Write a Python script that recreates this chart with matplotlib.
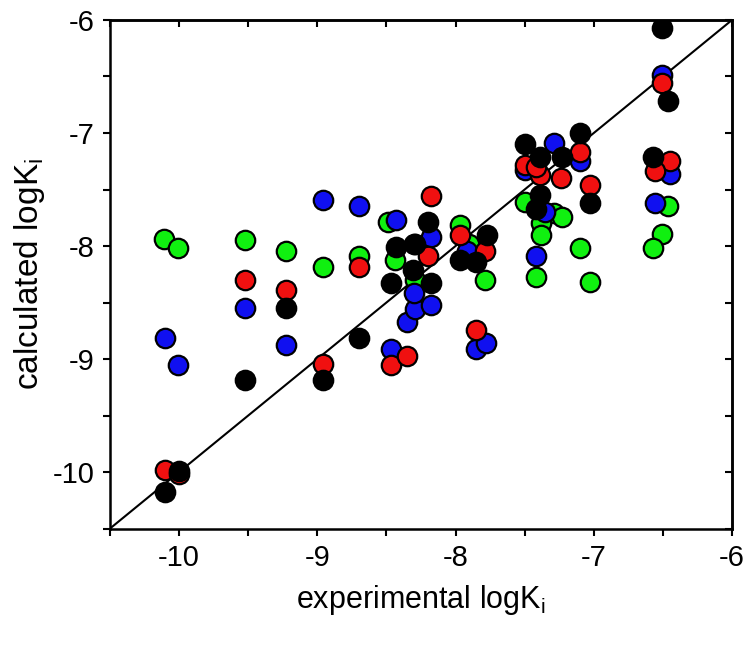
import matplotlib
matplotlib.use("Agg")
import matplotlib.pyplot as plt
from matplotlib.ticker import MultipleLocator

plt.rcParams['font.family'] = ['Liberation Sans', 'DejaVu Sans']
plt.rcParams['mathtext.default'] = 'regular'
plt.rcParams['axes.unicode_minus'] = False

# experimental vs calculated logKi, one pair of lists per method
green_x = [-10.11, -10.01, -9.52, -9.23, -8.96, -8.70, -8.49, -8.44, -8.29, -7.97, -7.90,
           -7.79, -7.50, -7.29, -7.23, -7.38, -7.38, -7.42, -7.10, -7.03, -6.46, -6.51, -6.57]
green_y = [-7.94, -8.02, -7.95, -8.04, -8.19, -8.09, -7.79, -8.12, -8.30, -7.81, -7.98,
           -8.30, -7.61, -7.71, -7.74, -7.80, -7.90, -8.27, -8.02, -8.32, -7.65, -7.89, -8.02]

blue_x = [-10.10, -10.01, -9.52, -9.23, -8.96, -8.70, -8.43, -8.47, -8.35, -8.29, -8.18,
          -8.30, -8.18, -7.92, -7.85, -7.78, -7.50, -7.29, -7.35, -7.42, -7.10, -6.51,
          -6.45, -6.56]
blue_y = [-8.81, -9.05, -8.55, -8.88, -7.59, -7.65, -7.77, -8.91, -8.67, -8.56, -8.52,
          -8.42, -7.92, -8.04, -8.91, -8.86, -7.33, -7.09, -7.70, -8.09, -7.25, -6.49,
          -7.36, -7.62]

red_x = [-10.10, -10.00, -9.52, -9.23, -8.96, -8.70, -8.47, -8.35, -8.18, -8.20, -8.30,
         -7.97, -7.79, -7.85, -7.50, -7.39, -7.24, -7.42, -7.10, -7.03, -6.51, -6.45, -6.56]
red_y = [-9.98, -10.02, -8.30, -8.39, -9.04, -8.19, -9.05, -8.97, -7.56, -8.09, -7.98,
         -7.90, -8.04, -8.74, -7.28, -7.37, -7.40, -7.30, -7.17, -7.46, -6.56, -7.25, -7.34]

black_x = [-10.10, -10.00, -9.52, -9.23, -8.96, -8.70, -8.47, -8.43, -8.29, -8.20, -8.31,
           -8.18, -7.97, -7.77, -7.85, -7.50, -7.39, -7.23, -7.39, -7.42, -7.10, -7.03,
           -6.51, -6.46, -6.57]
black_y = [-10.18, -9.99, -9.19, -8.55, -9.19, -8.81, -8.33, -8.01, -7.98, -7.79, -8.21,
           -8.33, -8.12, -7.90, -8.14, -7.10, -7.21, -7.21, -7.55, -7.67, -7.00, -7.62,
           -6.07, -6.72, -7.21]

ticks = [-10, -9, -8, -7, -6]
lims = [-10.5, -6]

fig = plt.figure(figsize=(7.5, 6.45), dpi=100)
ax = fig.add_axes([0.1467, 0.1806, 0.8293, 0.7884])

ax.plot(lims, lims, color='black', lw=1.5, zorder=1)

for xs, ys, c in [(green_x, green_y, '#10f010'), (blue_x, blue_y, '#1010f0'),
                  (red_x, red_y, '#f01010'), (black_x, black_y, '#000000')]:
    ax.plot(xs, ys, 'o', ms=14, mfc=c, mec='black', mew=1.6, ls='none', zorder=2)

ax.set_xlim(lims)
ax.set_ylim(lims)
ax.set_xticks(ticks)
ax.set_yticks(ticks)
ax.xaxis.set_minor_locator(MultipleLocator(0.5))
ax.yaxis.set_minor_locator(MultipleLocator(0.5))

for s in ax.spines.values():
    s.set_linewidth(1.8)

ax.tick_params(which='both', direction='out', length=5, width=1.5,
               labelsize=21, pad=6)

# mirrored ticks on top and right, pointing in
top = ax.secondary_xaxis('top')
top.set_xticks(ticks)
top.xaxis.set_minor_locator(MultipleLocator(0.5))
top.tick_params(which='both', direction='in', length=5, width=1.5, labeltop=False)
top.spines['top'].set_linewidth(1.8)
right = ax.secondary_yaxis('right')
right.set_yticks(ticks)
right.yaxis.set_minor_locator(MultipleLocator(0.5))
right.tick_params(which='both', direction='in', length=5, width=1.5, labelright=False)
right.spines['right'].set_linewidth(1.8)

ax.set_xlabel('experimental logK$_i$', fontsize=22, labelpad=8)
ax.set_ylabel('calculated logK$_i$', fontsize=24, labelpad=4)

fig.savefig('out.png', dpi=100)
